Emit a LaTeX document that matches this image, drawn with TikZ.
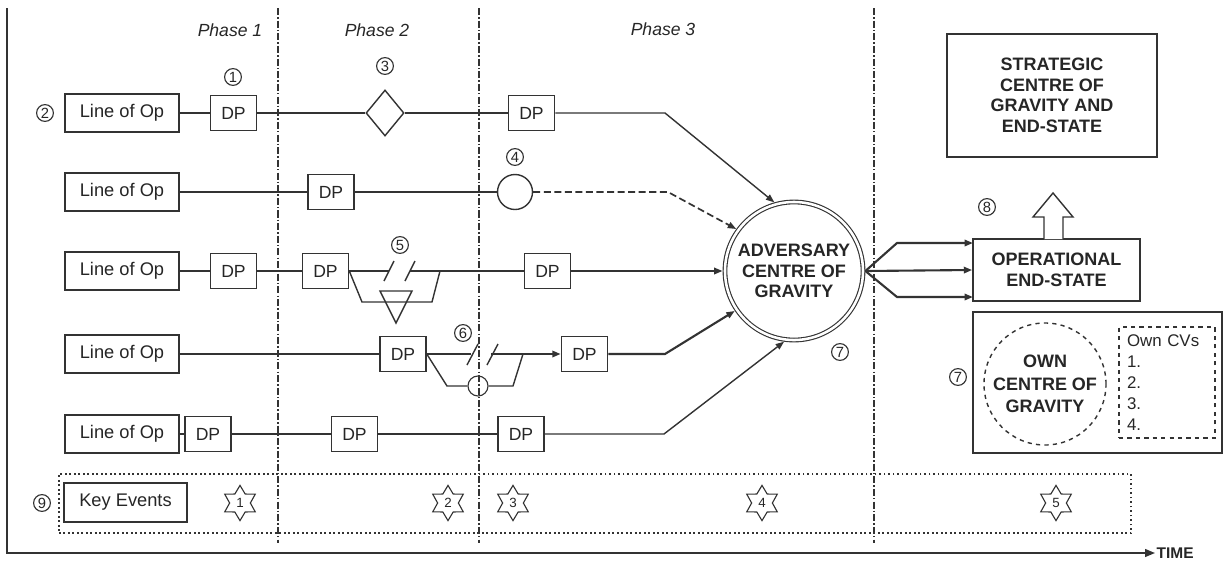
\documentclass[tikz,border=0pt]{standalone}
\usepackage{fontspec}
\setmainfont{Liberation Sans}
\usetikzlibrary{arrows.meta, shapes.geometric}
\definecolor{ink}{HTML}{262626}
\definecolor{rule}{HTML}{333333}

\begin{document}
\begin{tikzpicture}[x=0.025cm, y=-0.025cm,
    every node/.style={text=ink, font=\fontsize{13}{15}\selectfont},
    box/.style={draw=rule, line width=1.1pt, fill=white, inner sep=0pt},
    lop/.style={box, minimum width=2.85cm, minimum height=0.95cm},
    dp/.style={box, minimum width=1.15cm, minimum height=0.875cm, font=\fontsize{12.5}{14}\selectfont},
    goal/.style={align=center, font=\bfseries\fontsize{12.8}{14.6}\selectfont},
    tagno/.style={circle, draw=rule, line width=0.8pt, inner sep=0pt, minimum size=0.42cm,
        font=\fontsize{10.5}{10.5}\selectfont},
    event/.style={star, star points=6, star point ratio=1.7, draw=rule, line width=0.8pt,
        inner sep=0pt, minimum size=0.88cm, font=\fontsize{9.5}{9.5}\selectfont},
    link/.style={draw=rule, line width=1pt},
    push/.style={draw=rule, line width=1.5pt},
    headed/.style={-{Triangle[length=6pt, width=4.5pt]}},
    phase/.style={draw=rule, line width=1.2pt, dash pattern=on 5pt off 1.5pt on 1pt off 1.5pt},
    phasename/.style={font=\itshape\fontsize{12.5}{14}\selectfont},
]
\useasboundingbox (0,0) rectangle (1225,560);

% frame and time axis
\coordinate (ytop) at (7,8);
\coordinate (origin) at (7,553);
\node[font=\bfseries\fontsize{11}{11}\selectfont, anchor=west, inner sep=1pt] (timelbl) at (1155,553) {TIME};
\draw[rule, line width=1.2pt, -{Triangle[length=7pt, width=5.5pt]}] (ytop) -- (origin) -- (timelbl.west);

% key events band, under the phase lines
\node[draw=rule, dotted, line width=1.2pt, minimum width=26.8cm, minimum height=1.475cm] (band) at (595,503.5) {};
\node[tagno] (mk9) at (42,503) {9};
\node[box, minimum width=3.075cm, minimum height=0.975cm] (kev) at (125.5,502.5) {Key Events};
\foreach \ex/\n in {240/1, 448/2, 513/3, 762/4, 1056/5}
    \node[event] (ev\n) at (\ex,503) {\n};

% phase boundaries
\foreach \px in {278, 479, 874}
    \draw[phase] (\px,8) -- (\px,543);
\node[phasename] (ph1) at (230,30) {Phase 1};
\node[phasename] (ph2) at (377,30) {Phase 2};
\node[phasename] (ph3) at (663,29) {Phase 3};

% adversary centre of gravity
\node[circle, draw=rule, line width=0.8pt, double, double distance=1.8pt, outer sep=1.7pt,
      minimum size=3.45cm, goal] (cog) at (794,271) {ADVERSARY\\CENTRE OF\\GRAVITY};
\node[tagno] (mk7a) at (840,352) {7};

% the lines of operation
\foreach \r/\ry in {1/113, 2/192, 3/271, 4/354, 5/434}
    \node[lop] (lop\r) at (122,\ry) {Line of Op};

% line 1
\node[tagno] (mk2) at (45,113) {2};
\node[dp] (dp11) at (233.5,113) {DP};
\node[tagno] (mk1) at (233,77) {1};
\node[diamond, draw=rule, line width=1pt, fill=white, inner sep=0pt,
      minimum width=0.95cm, minimum height=1.15cm] (dec1) at (385,113) {};
\node[tagno] (mk3) at (385,66) {3};
\node[dp] (dp12) at (531.5,113) {DP};
\coordinate (bend1) at (665,113);
\draw[link] (lop1) -- (dp11);
\draw[link] (dp11) -- (dec1);
\draw[link] (dec1) -- (dp12);
\draw[link, headed] (dp12.east) -- (bend1) -- (cog.106);

% line 2
\node[dp] (dp21) at (331,192) {DP};
\node[circle, draw=rule, line width=1pt, fill=white, minimum size=0.875cm, inner sep=0pt] (br2) at (515,192) {};
\node[tagno] (mk4) at (515,157) {4};
\coordinate (bend2) at (668,192);
\draw[link] (lop2) -- (dp21);
\draw[link] (dp21) -- (br2);
\draw[link, line width=1.2pt, dash pattern=on 5pt off 2.5pt, headed] (br2.east) -- (bend2) -- (cog.144);

% line 3
\node[dp] (dp31) at (233.5,271) {DP};
\node[dp] (dp32) at (325.5,271) {DP};
\node[dp] (dp33) at (547.5,271) {DP};
\node[tagno] (mk5) at (400,245) {5};
\coordinate (cut3a) at (389,271);
\coordinate (cut3b) at (410,271);
\coordinate (rej3) at (440,271);
\draw[link] (lop3) -- (dp31);
\draw[link] (dp31) -- (dp32);
\draw[link] (dp32.east) -- (cut3a);
\draw[link] (cut3b) -- (dp33.west);
\draw[link] (384,281) -- (394,261);
\draw[link] (405,281) -- (415,261);
\draw[link] (dp32.east) -- (362,302) -- (432,302) -- (rej3);
\draw[link] (380,291) -- (412,291) -- (396,323) -- cycle;
\draw[push, headed] (dp33.east) -- (cog.west);

% line 4
\node[dp] (dp41) at (403,354) {DP};
\node[dp] (dp42) at (584.5,354) {DP};
\node[tagno] (mk6) at (463,333) {6};
\node[circle, draw=rule, line width=0.8pt, minimum size=0.5cm, inner sep=0pt] (obs4) at (478,386) {};
\coordinate (cut4a) at (471,354);
\coordinate (cut4b) at (491,354);
\coordinate (rej4) at (523,354);
\coordinate (bend4) at (665,354);
\draw[link, line width=0.8pt] (lop4) -- (dp41);
\draw[link] (dp41.east) -- (cut4a);
\draw[link] (467,365) -- (478,344);
\draw[link] (487,365) -- (498,344);
\draw[push, headed] (cut4b) -- (dp42.west);
\draw[link] (dp41.east) -- (447,386) -- (obs4.west);
\draw[link] (obs4.east) -- (513,386) -- (rej4);
\draw[push, headed] (dp42.east) -- (bend4) -- (cog.214);

% line 5
\node[dp] (dp51) at (208,434) {DP};
\node[dp] (dp52) at (354.5,434) {DP};
\node[dp] (dp53) at (521,434) {DP};
\coordinate (bend5) at (664,434);
\draw[link] (lop5) -- (dp51);
\draw[link] (dp51) -- (dp52);
\draw[link] (dp52) -- (dp53);
\draw[link, headed] (dp53.east) -- (bend5) -- (cog.262);

% end-states
\node[box, goal, minimum width=4.175cm, minimum height=1.55cm] (opes) at (1056.5,270) {OPERATIONAL\\END-STATE};
\node[box, goal, minimum width=5.25cm, minimum height=3.075cm] (strat) at (1052,95.5)
     {STRATEGIC\\CENTRE OF\\GRAVITY AND\\END-STATE};
\node[tagno] (mk8) at (987,207) {8};
\coordinate (fan1) at (897,243);
\coordinate (fan3) at (897,297);
\coordinate (in1) at (973,243);
\coordinate (in3) at (973,297);
\draw[push, headed] (cog.east) -- (fan1) -- (in1);
\draw[push, headed] (cog.east) -- (opes.west);
\draw[push, headed] (cog.east) -- (fan3) -- (in3);
\draw[rule, line width=1pt, fill=white] (1044,239) -- (1044,217) -- (1033,217) -- (1053,193)
     -- (1073,217) -- (1063,217) -- (1063,239);

% own centre of gravity
\node[box, minimum width=6.225cm, minimum height=3.525cm] (ownbox) at (1097.5,382.5) {};
\node[circle, draw=rule, dashed, line width=1pt, minimum size=3.05cm, inner sep=0pt,
      goal, font=\bfseries\fontsize{12.8}{16}\selectfont] (owncog) at (1045,384) {OWN\\CENTRE OF\\GRAVITY};
\node[tagno] (mk7b) at (958,377) {7};
\node[draw=rule, dashed, line width=1.3pt, minimum width=2.4cm, minimum height=2.775cm,
      text width=2cm, align=left, inner xsep=0.2cm, font=\fontsize{12}{15}\selectfont]
     (cvs) at (1167,382.5) {Own CVs\\1.\\2.\\3.\\4.};
\end{tikzpicture}
\end{document}
